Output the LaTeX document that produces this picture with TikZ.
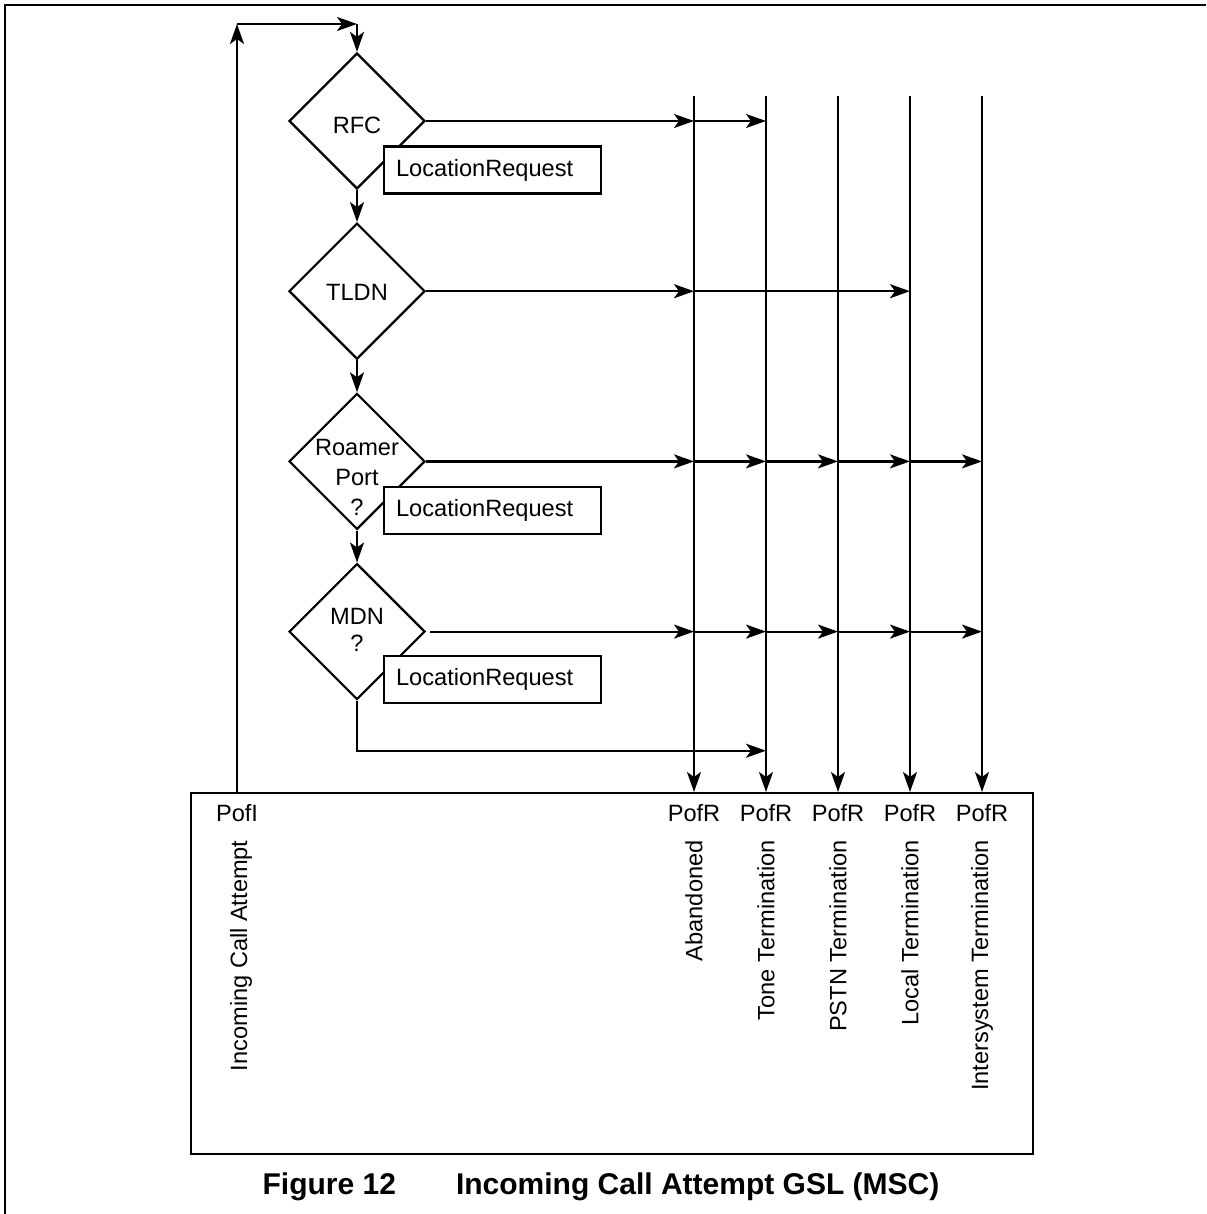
\documentclass[tikz,border=0pt]{standalone}
\usepackage{fontspec}
\setmainfont{Liberation Sans}
\usetikzlibrary{arrows.meta, positioning, shapes.geometric}

\begin{document}
\begin{tikzpicture}[
    x=0.5pt, y=-0.5pt,
    node distance=16pt,
    decision/.style={
      diamond, draw, line width=1.1pt,
      minimum width=68pt, minimum height=68pt,
      inner sep=0pt
    },
    dtext/.style={
      align=center, inner sep=0pt,
      font=\fontsize{11.8}{13.5}\selectfont
    },
    msgbox/.style={
      rectangle, draw, fill=white, line width=1.1pt,
      text width=96.5pt, minimum height=23.5pt,
      inner xsep=6pt, align=left, anchor=west,
      font=\fontsize{11.8}{14}\selectfont
    },
    lbl/.style={inner sep=0pt, font=\fontsize{11.8}{14}\selectfont},
    arrow/.style={-{Stealth[length=10pt, width=7pt, inset=2.5pt]}, line width=1.1pt}
  ]
    \useasboundingbox (0,0) rectangle (1206,1214);
    \draw[line width=1.3pt] (5,1214) -- (5,5) -- (1206,5);

    % decisions
    \node[decision] (rfc) at (357,121) {};
    \node[decision, below=of rfc] (tldn) {};
    \node[decision, below=of tldn] (roam) {};
    \node[decision, below=of roam] (mdn) {};
    \node[dtext] (rfctxt) at ([yshift=-2pt]rfc) {RFC};
    \node[dtext] (tldntxt) at ([yshift=-0.5pt]tldn) {TLDN};
    \node[dtext, font=\fontsize{11.8}{15}\selectfont] (roamtxt) at ([yshift=-8pt]roam) {Roamer\\Port\\?};
    \node[dtext] (mdntxt) at ([yshift=1pt]mdn) {MDN\\?};

    % messages
    \node[msgbox] (rfcloc) at ([xshift=13pt, yshift=-24.5pt]rfc) {LocationRequest};
    \node[msgbox] (roamloc) at ([xshift=13pt, yshift=-24.5pt]roam) {LocationRequest};
    \node[msgbox] (mdnloc) at ([xshift=13pt, yshift=-24pt]mdn) {LocationRequest};

    % GSL box
    \node[draw, line width=1.1pt, minimum width=421pt, minimum height=180.5pt,
      anchor=north west, inner sep=0pt] (gsl) at (190,792) {};

    % points in call
    \coordinate (abd) at (694,96);
    \coordinate (tone) at (766,96);
    \coordinate (pstn) at (838,96);
    \coordinate (local) at (910,96);
    \coordinate (inter) at (982,96);

    \node[lbl] (pofi) at (237,813) {PofI};
    \node[lbl, rotate=90, anchor=east] (pofitxt) at (241,840) {Incoming Call Attempt};
    \foreach \c/\t in {abd/Abandoned, tone/Tone Termination, pstn/PSTN Termination,
                       local/Local Termination, inter/Intersystem Termination} {
      \node[lbl] (\c-pofr) at (\c |- 0,813) {PofR};
      \node[lbl, rotate=90, anchor=east] (\c-txt) at (\c |- 0,840) {\t};
      \draw[arrow] (\c) -- (\c |- gsl.north);
    }

    % loop back to start
    \coordinate (loopup) at (237,24);
    \coordinate (loopin) at (rfc.north |- loopup);
    \draw[arrow] (pofi |- gsl.north) -- (loopup);
    \draw[arrow] (loopup) -- (loopin);
    \draw[arrow] (loopin) -- (rfc.north);

    % chain
    \draw[arrow] (rfc) -- (tldn);
    \draw[arrow] (tldn) -- (roam);
    \draw[arrow] (roam) -- (mdn);

    % branches
    \draw[arrow] (rfc.east) -- (rfc.east -| abd);
    \draw[arrow] (rfc.east -| abd) -- (rfc.east -| tone);
    \draw[arrow] (tldn.east) -- (tldn.east -| abd);
    \draw[arrow] (tldn.east -| abd) -- (tldn.east -| local);
    \draw[arrow] (roam.east) -- (roam.east -| abd);
    \draw[arrow] ([xshift=2pt]mdn.east) -- (mdn.east -| abd);
    \foreach \a/\b in {abd/tone, tone/pstn, pstn/local, local/inter} {
      \draw[arrow] (roam.east -| \a) -- (roam.east -| \b);
      \draw[arrow] (mdn.east -| \a) -- (mdn.east -| \b);
    }
    \coordinate (mdnturn) at ([yshift=-25pt]mdn.south);
    \draw[arrow] (mdn.south) -- (mdnturn) -- (mdnturn -| tone);

    \node[font=\bfseries\fontsize{15}{18}\selectfont, inner sep=0pt] (caption) at (601,1187)
      {Figure 12\hspace{30pt}Incoming Call Attempt GSL (MSC)};
\end{tikzpicture}
\end{document}
